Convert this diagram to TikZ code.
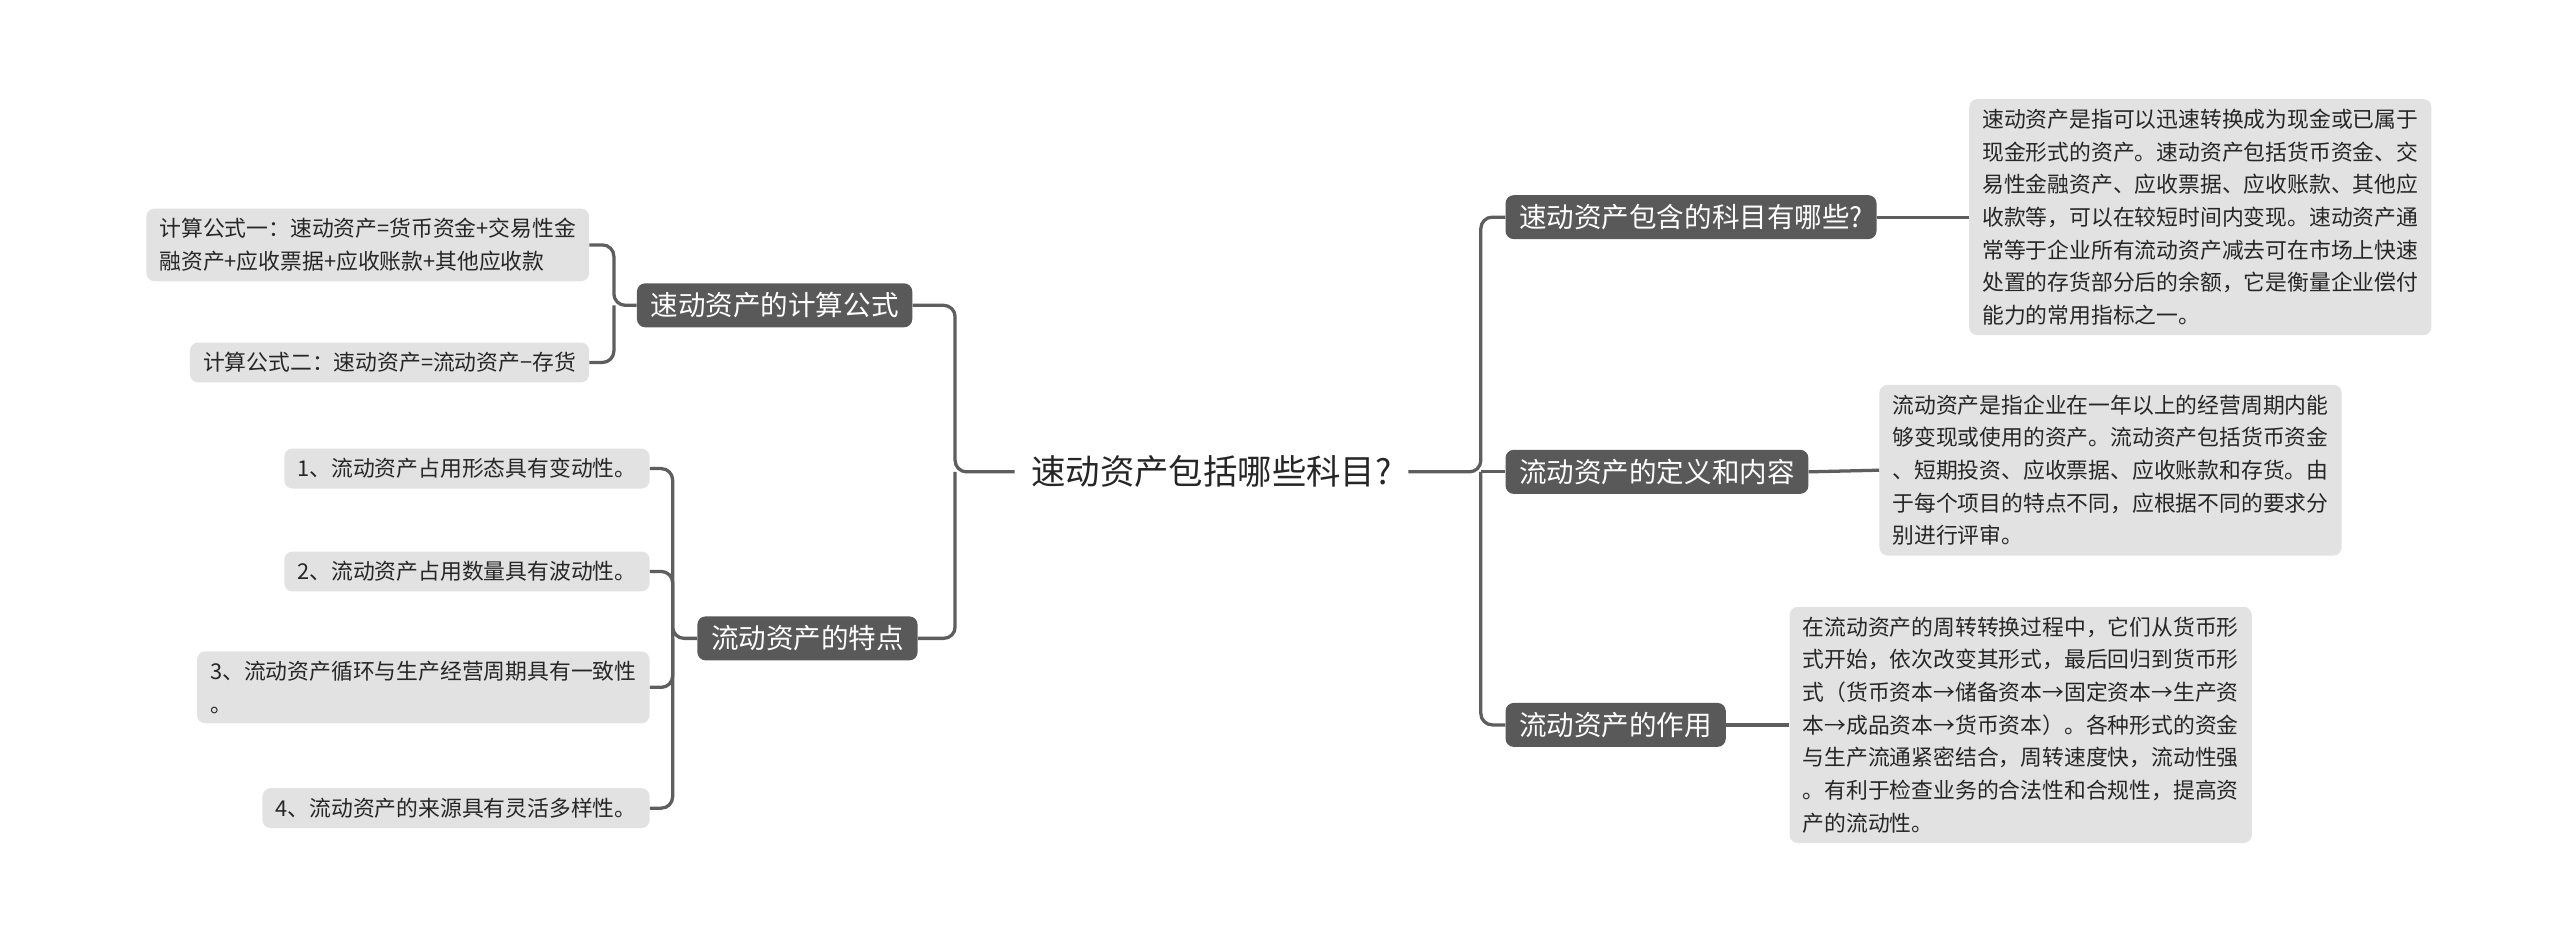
\documentclass[tikz,border=0pt]{standalone}
\usepackage{fontspec}
\setmainfont{Noto Sans CJK SC}
\definecolor{br}{HTML}{595959}
\definecolor{lf}{HTML}{E2E2E2}
\definecolor{ln}{HTML}{5E5E5E}
\begin{document}
\begin{tikzpicture}[x=0.05cm,y=-0.05cm,
 branch/.style={fill=br,text=white,rounded corners=0.25cm,anchor=west,inner xsep=0.42cm,inner ysep=0.28cm,font=\fontsize{24}{30}\selectfont},
 leaf/.style={fill=lf,text=black!85,rounded corners=0.25cm,anchor=west,inner xsep=0.4cm,inner ysep=0.3cm,align=left,font=\fontsize{19}{28.5}\selectfont},
 leafe/.style={leaf,anchor=east},
 conn/.style={draw=ln,line width=0.1cm,rounded corners=0.35cm}]
\useasboundingbox (0,0) rectangle (1568,578);
\node[font=\fontsize{30}{36}\selectfont,text=black!85,inner xsep=0.5cm] (c) at (742,289) {速动资产包括哪些科目?};
% branches
\node[branch] (b1) at (390,187) {速动资产的计算公式};
\node[branch] (b2) at (427,391) {流动资产的特点};
\node[branch] (r1) at (922,133) {速动资产包含的科目有哪些?};
\node[branch] (r2) at (922,289) {流动资产的定义和内容};
\node[branch] (r3) at (922,444) {流动资产的作用};
% leaves left
\node[leafe] (l1) at (361,150) {计算公式一：速动资产=货币资金+交易性金\\融资产+应收票据+应收账款+其他应收款};
\node[leafe] (l2) at (361,222) {计算公式二：速动资产=流动资产−存货};
\node[leafe] (f1) at (398,287) {1、流动资产占用形态具有变动性。};
\node[leafe] (f2) at (398,350) {2、流动资产占用数量具有波动性。};
\node[leafe] (f3) at (398,421) {3、流动资产循环与生产经营周期具有一致性\\。};
\node[leafe] (f4) at (398,495) {4、流动资产的来源具有灵活多样性。};
% leaves right
\node[leaf] (d1) at (1206,133) {速动资产是指可以迅速转换成为现金或已属于\\现金形式的资产。速动资产包括货币资金、交\\易性金融资产、应收票据、应收账款、其他应\\收款等，可以在较短时间内变现。速动资产通\\常等于企业所有流动资产减去可在市场上快速\\处置的存货部分后的余额，它是衡量企业偿付\\能力的常用指标之一。};
\node[leaf] (d2) at (1151,288) {流动资产是指企业在一年以上的经营周期内能\\够变现或使用的资产。流动资产包括货币资金\\、短期投资、应收票据、应收账款和存货。由\\于每个项目的特点不同，应根据不同的要求分\\别进行评审。};
\node[leaf] (d3) at (1096,444) {在流动资产的周转转换过程中，它们从货币形\\式开始，依次改变其形式，最后回归到货币形\\式（货币资本→储备资本→固定资本→生产资\\本→成品资本→货币资本）。各种形式的资金\\与生产流通紧密结合，周转速度快，流动性强\\。有利于检查业务的合法性和合规性，提高资\\产的流动性。};
% trunk coordinates
\coordinate (tL) at (585,289);
\coordinate (tR) at (907,289);
\coordinate (tA) at (376,187);
\coordinate (tB) at (412,391);
\draw[conn] (b1.east) -| (tL) -- (c.west);
\draw[conn] (b2.east) -| (tL);
\draw[conn] (c.east) -- (tR) |- (r1.west);
\draw[conn] (tR) |- (r3.west);
\draw[conn] (tR) -- (r2.west);
\draw[conn] (l1.east) -| (tA) -- (b1.west);
\draw[conn] (l2.east) -| (tA);
\draw[conn] (f1.east) -| (tB) -- (b2.west);
\draw[conn] (f4.east) -| (tB);
\draw[conn] (f2.east) -| (tB);
\draw[conn] (f3.east) -| (tB);
\draw[conn] (r1.east) -- (d1.west);
\draw[conn] (r2.east) -- (d2.west);
\draw[conn] (r3.east) -- (d3.west);
\end{tikzpicture}
\end{document}
